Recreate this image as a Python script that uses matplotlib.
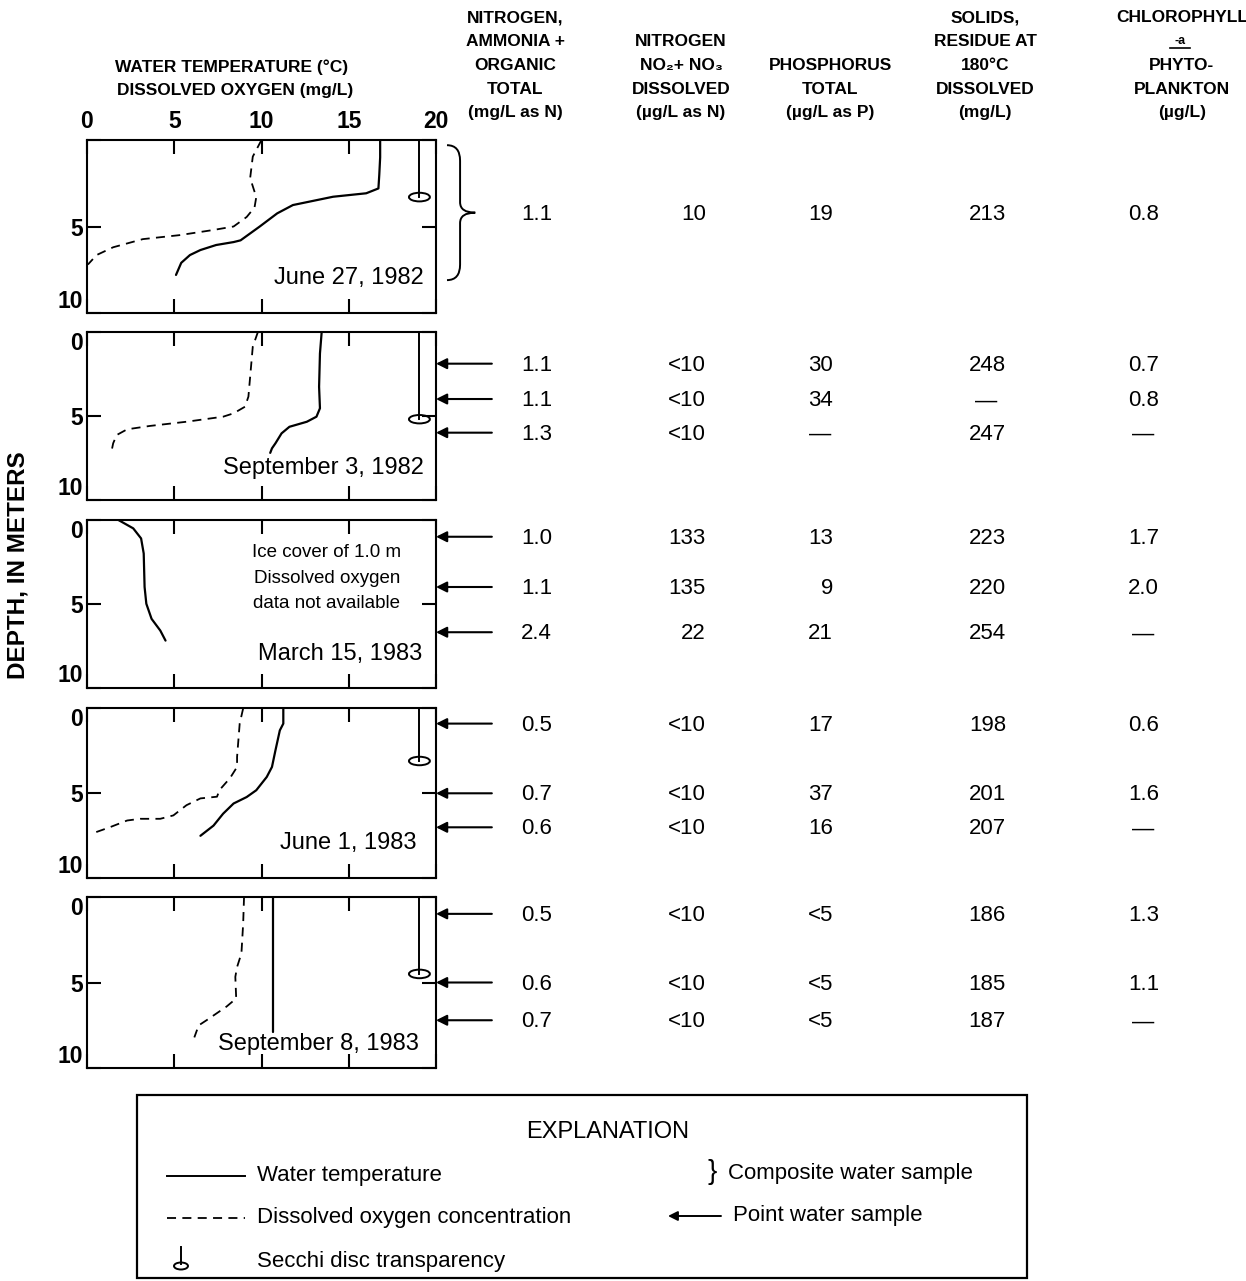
import matplotlib
matplotlib.use("Agg")
import matplotlib.pyplot as plt
import matplotlib.transforms as mtransforms
from matplotlib.patches import Ellipse, Rectangle, PathPatch
from matplotlib.path import Path

plt.rcParams["font.family"] = ["Liberation Sans", "DejaVu Sans"]

# ---------------------------------------------------------------- data
dates = ["June 27, 1982", "September 3, 1982", "March 15, 1983",
         "June 1, 1983", "September 8, 1983"]

# water temperature profiles (depth m, deg C)
jun82_temp_depth = [0, 1.0, 2.0, 2.8, 3.08, 3.28, 3.76, 4.24, 5.0, 5.8, 5.9, 6.07, 6.36, 6.65, 7.1, 7.8]
jun82_temp = [16.8, 16.8, 16.75, 16.7, 16.0, 14.1, 11.8, 10.9, 9.9, 8.8, 8.4, 7.4, 6.5, 5.9, 5.4, 5.1]
sep82_temp_depth = [0, 1.29, 3.27, 4.55, 5.05, 5.35, 5.65, 6.04, 6.63, 6.93, 7.2]
sep82_temp = [13.45, 13.35, 13.3, 13.35, 13.15, 12.6, 11.6, 11.15, 10.8, 10.6, 10.5]
mar83_temp_depth = [0, 0.5, 1.1, 2.0, 4.0, 5.0, 5.9, 6.6, 7.2]
mar83_temp = [1.8, 2.65, 3.1, 3.25, 3.3, 3.4, 3.7, 4.2, 4.5]
jun83_temp_depth = [0, 0.9, 1.3, 2.47, 3.45, 4.04, 4.82, 5.22, 5.6, 6.2, 6.9, 7.5]
jun83_temp = [11.25, 11.25, 11.05, 10.8, 10.6, 10.3, 9.7, 9.15, 8.4, 7.8, 7.25, 6.5]
sep83_temp_depth = [0, 7.9]
sep83_temp = [10.65, 10.65]

# dissolved oxygen profiles (depth m, mg/L); none under the ice in March 1983
jun82_do_depth = [0, 0.96, 2.2, 3.3, 3.9, 4.45, 5.0, 5.2, 5.5, 5.73, 6.2, 6.65, 7.2]
jun82_do = [10.0, 9.5, 9.35, 9.7, 9.6, 9.15, 8.4, 7.25, 5.3, 3.2, 1.5, 0.55, 0.05]
sep82_do_depth = [0, 0.89, 2.08, 3.86, 4.46, 4.85, 5.05, 5.35, 5.6, 5.8, 6.14, 6.63, 7.13]
sep82_do = [9.8, 9.5, 9.4, 9.25, 9.05, 8.4, 7.8, 5.7, 3.6, 2.3, 1.7, 1.5, 1.4]
jun83_do_depth = [0, 0.9, 2.86, 3.45, 4.1, 4.8, 5.2, 5.3, 5.7, 6.3, 6.5, 6.5, 6.6, 7.0, 7.4]
jun83_do = [8.95, 8.75, 8.6, 8.6, 8.2, 7.6, 7.45, 6.5, 5.7, 4.95, 4.2, 3.05, 2.3, 1.3, 0.2]
sep83_do_depth = [0, 1.55, 3.3, 4.1, 4.67, 5.93, 6.4, 7.2, 7.5, 8.2]
sep83_do = [9.0, 8.95, 8.85, 8.6, 8.5, 8.55, 8.0, 6.85, 6.4, 6.15]

temp_depths = [jun82_temp_depth, sep82_temp_depth, mar83_temp_depth, jun83_temp_depth, sep83_temp_depth]
temps = [jun82_temp, sep82_temp, mar83_temp, jun83_temp, sep83_temp]
do_depths = [jun82_do_depth, sep82_do_depth, None, jun83_do_depth, sep83_do_depth]
dos = [jun82_do, sep82_do, None, jun83_do, sep83_do]

# Secchi disc transparency (m)
secchi_depth = [3.3, 5.2, None, 3.1, 4.5]

# sampling depths (m); the first survey is one composite sample
composite_range = (0.3, 8.1)
sample_depths = [None, [1.9, 4.0, 6.0], [1.0, 4.0, 6.7], [0.9, 5.0, 7.0], [1.0, 5.0, 7.2]]

nitrogen_organic = [["1.1"], ["1.1", "1.1", "1.3"], ["1.0", "1.1", "2.4"],
                    ["0.5", "0.7", "0.6"], ["0.5", "0.6", "0.7"]]
nitrogen_no2no3 = [["10"], ["<10", "<10", "<10"], ["133", "135", "22"],
                   ["<10", "<10", "<10"], ["<10", "<10", "<10"]]
phosphorus = [["19"], ["30", "34", "—"], ["13", "9", "21"],
              ["17", "37", "16"], ["<5", "<5", "<5"]]
solids = [["213"], ["248", "—", "247"], ["223", "220", "254"],
          ["198", "201", "207"], ["186", "185", "187"]]
chlorophyll = [["0.8"], ["0.7", "0.8", "—"], ["1.7", "2.0", "—"],
               ["0.6", "1.6", "—"], ["1.3", "1.1", "—"]]
table_columns = [nitrogen_organic, nitrogen_no2no3, phosphorus, solids, chlorophyll]

column_headers = [
    ["NITROGEN,", "AMMONIA +", "ORGANIC", "TOTAL", "(mg/L as N)"],
    ["", "NITROGEN", "NO₂+ NO₃", "DISSOLVED", "(µg/L as N)"],
    ["", "", "PHOSPHORUS", "TOTAL", "(µg/L as P)"],
    ["SOLIDS,", "RESIDUE AT", "180°C", "DISSOLVED", "(mg/L)"],
    ["CHLOROPHYLL", "-a", "PHYTO-", "PLANKTON", "(µg/L)"],
]

x_ticks = [0, 5, 10, 15, 20]
y_ticks = [0, 5, 10]

# ---------------------------------------------------------------- layout
W, H = 1246, 1281
fig = plt.figure(figsize=(W / 100, H / 100), dpi=100)
fig.patch.set_facecolor("white")

ov = fig.add_axes([0, 0, 1, 1])
ov.set_xlim(0, W)
ov.set_ylim(H, 0)
ov.axis("off")

panel_left, panel_right = 87, 436
panel_tops = [140, 331.7, 520, 708.3, 896.7]
panel_bottoms = [313, 500, 687.5, 878.3, 1068.3]

col_right = [552, 706, 833, 1006, 1159]
col_center = [537, 690, 820, 986, 1143]
header_center = [515, 681, 830, 985, 1182]
header_rows = [18, 41, 65, 89, 113]

date_pos = [(19.3, 8.0), (19.3, 8.1), (19.2, 8.0), (18.9, 7.9), (19.0, 8.6)]

LW = 1.5
arrow_tail = 23.2

for i in range(5):
    top, bot = panel_tops[i], panel_bottoms[i]
    ax = fig.add_axes([panel_left / W, 1 - bot / H,
                       (panel_right - panel_left) / W, (bot - top) / H])
    ax.set_xlim(0, 20)
    ax.set_ylim(10, 0)
    ax.set_xticks(x_ticks)
    ax.set_yticks(y_ticks)
    for s in ax.spines.values():
        s.set_linewidth(LW)
    ax.tick_params(direction="in", length=10, width=LW, top=True, right=True,
                   labelbottom=False, labeltop=(i == 0), labelsize=16.5, pad=3)
    ax.tick_params(axis="x", pad=5)
    if i == 0:
        ax.set_yticklabels(["", "5", "10"])
    for lbl in ax.get_xticklabels() + ax.get_yticklabels():
        lbl.set_fontweight("bold")
    ylabels = ax.get_yticklabels()
    ylabels[0].set_va("top")
    ylabels[-1].set_va("bottom")

    ax.plot(temps[i], temp_depths[i], color="black", lw=1.6, solid_capstyle="round")
    if dos[i] is not None:
        ax.plot(dos[i], do_depths[i], color="black", lw=1.3, linestyle=(0, (5, 3.5)))

    if secchi_depth[i] is not None:
        ax.plot([19.05, 19.05], [0, secchi_depth[i]], color="black", lw=1.4)
        ax.add_patch(Ellipse((19.05, secchi_depth[i]), 1.2, 0.5, facecolor="none",
                             edgecolor="black", lw=1.4))

    ax.text(date_pos[i][0], date_pos[i][1], dates[i], ha="right", va="center",
            fontsize=17)

    blend = mtransforms.blended_transform_factory(ov.transData, ax.transData)

    if sample_depths[i] is None:
        d0, d1 = composite_range
        mid = 0.5 * (d0 + d1)
        xa, xs, xt = 20.63, 21.38, 22.25
        verts = [(xa, d0), (xs, d0), (xs, d0 + 0.9), (xs, mid - 0.6),
                 (xs, mid), (xt, mid), (xs, mid), (xs, mid + 0.6),
                 (xs, d1 - 0.9), (xs, d1), (xa, d1)]
        codes = [Path.MOVETO, Path.CURVE3, Path.CURVE3, Path.LINETO,
                 Path.CURVE3, Path.CURVE3, Path.CURVE3, Path.CURVE3,
                 Path.LINETO, Path.CURVE3, Path.CURVE3]
        ax.add_patch(PathPatch(Path(verts, codes), facecolor="none",
                               edgecolor="black", lw=1.4, clip_on=False))
        row_depths = [mid]
    else:
        row_depths = sample_depths[i]
        for d in row_depths:
            ax.annotate("", xy=(20.0, d), xytext=(arrow_tail, d),
                        arrowprops=dict(arrowstyle="-|>", lw=1.5, color="black",
                                        mutation_scale=16, shrinkA=0, shrinkB=0),
                        annotation_clip=False)

    for c, column in enumerate(table_columns):
        for r, d in enumerate(row_depths):
            val = column[i][r]
            if val == "—":
                ov_x, ha = col_center[c], "center"
            else:
                ov_x, ha = col_right[c], "right"
            ax.text(ov_x, d + 0.1, val, transform=blend, ha=ha, va="center",
                    fontsize=16, clip_on=False)

    if i == 2:
        for line, d in zip(["Ice cover of 1.0 m", "Dissolved oxygen",
                            "data not available"], [1.95, 3.5, 5.0]):
            ax.text(13.75, d, line, ha="center", va="center", fontsize=13.5)

# ---------------------------------------------------------------- headers
ov.text(232, 67, "WATER TEMPERATURE (°C)", ha="center", va="center",
        fontsize=12.5, fontweight="bold")
ov.text(235, 90, "DISSOLVED OXYGEN (mg/L)", ha="center", va="center",
        fontsize=12.5, fontweight="bold")
ov.text(18, 565, "DEPTH, IN METERS", ha="center", va="center", rotation=90,
        fontsize=17.5, fontweight="bold")

for c, lines in enumerate(column_headers):
    for r, txt in enumerate(lines):
        if not txt:
            continue
        if txt == "-a":
            ov.text(header_center[c] - 2, header_rows[r], txt, ha="center", va="center",
                    fontsize=9, fontweight="bold")
            ov.plot([header_center[c] - 12, header_center[c] + 8],
                    [header_rows[r] + 7, header_rows[r] + 7], color="black", lw=1.2)
            continue
        ov.text(header_center[c], header_rows[r], txt, ha="center", va="center",
                fontsize=12.5, fontweight="bold")

# ---------------------------------------------------------------- explanation
ov.add_patch(Rectangle((137, 1095), 890, 183, facecolor="none", edgecolor="black",
                       lw=1.6))
ov.text(608, 1132, "EXPLANATION", ha="center", va="center", fontsize=17)
ov.plot([167, 245], [1176, 1176], color="black", lw=1.4)
ov.text(257, 1176, "Water temperature", ha="left", va="center", fontsize=16)
ov.plot([167, 245], [1218, 1218], color="black", lw=1.3, linestyle=(0, (5, 3.5)))
ov.text(257, 1218, "Dissolved oxygen concentration", ha="left", va="center",
        fontsize=16)
ov.plot([181, 181], [1247, 1264], color="black", lw=1.4)
ov.add_patch(Ellipse((181, 1266), 14, 7, facecolor="none", edgecolor="black", lw=1.4))
ov.text(257, 1261, "Secchi disc transparency", ha="left", va="center", fontsize=16)
ov.text(712, 1172, "}", ha="center", va="center", fontsize=20)
ov.text(728, 1173, "Composite water sample", ha="left", va="center", fontsize=16)
ov.annotate("", xy=(668, 1216), xytext=(721, 1216),
            arrowprops=dict(arrowstyle="-|>", lw=1.4, color="black",
                            mutation_scale=14, shrinkA=0, shrinkB=0))
ov.text(733, 1216, "Point water sample", ha="left", va="center", fontsize=16)

fig.savefig("out.png", dpi=100, facecolor="white")
